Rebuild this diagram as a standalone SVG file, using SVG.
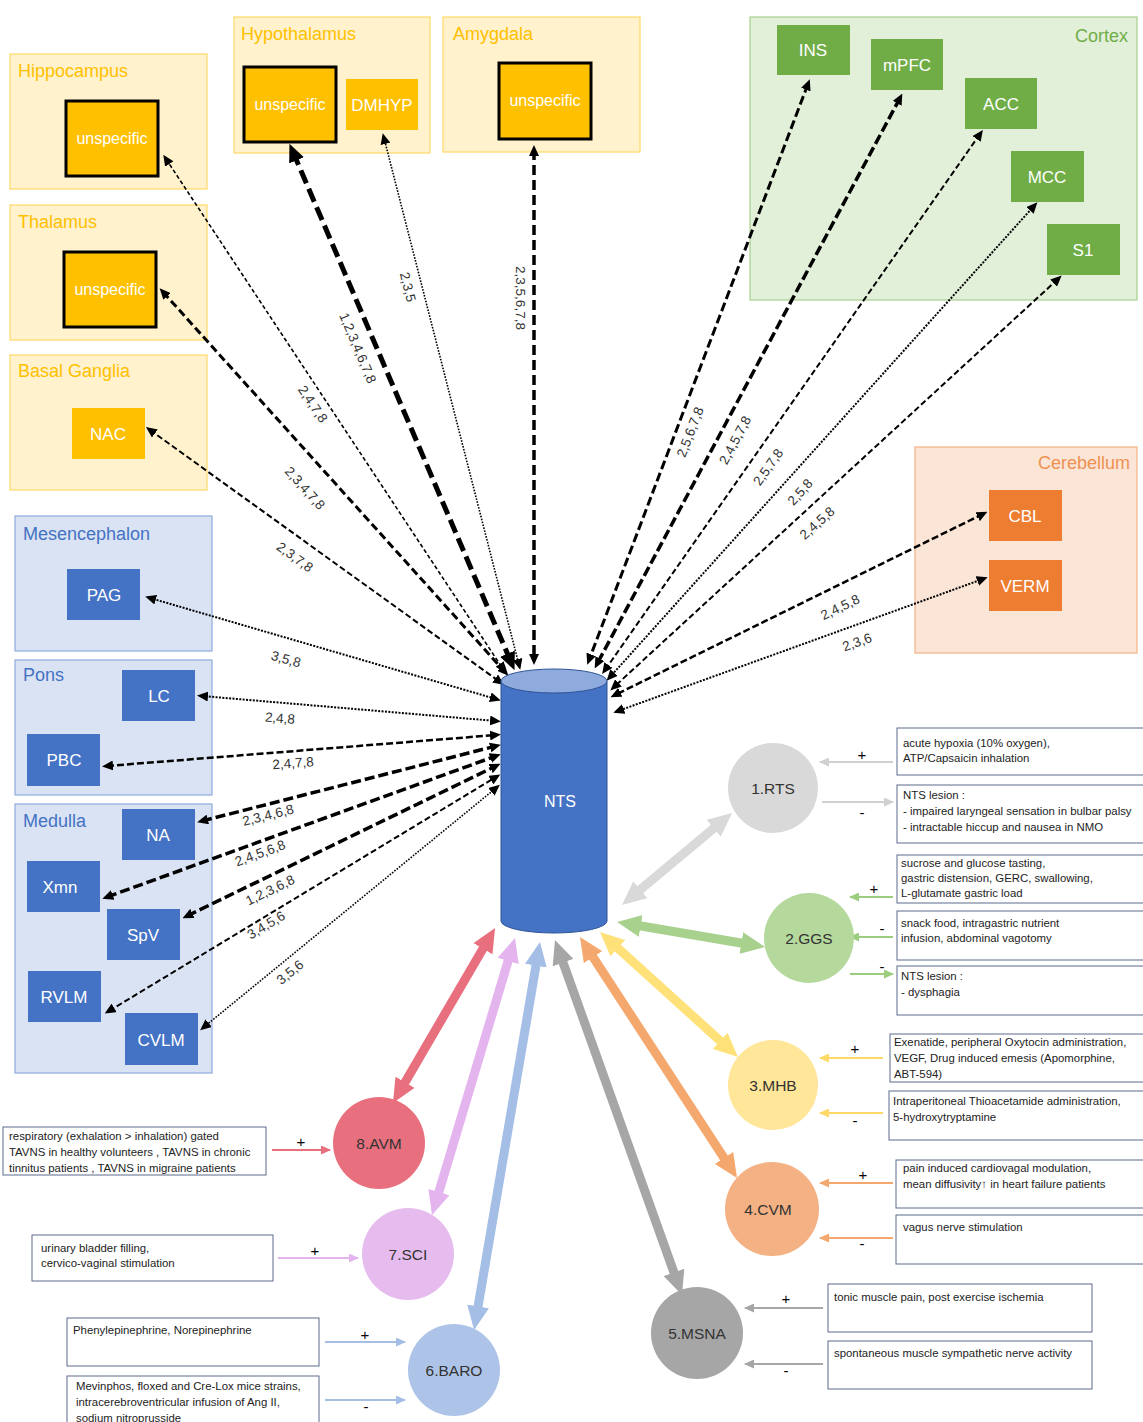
<svg xmlns="http://www.w3.org/2000/svg" width="1143" height="1422" viewBox="0 0 1143 1422">
<style>
text{font-family:"Liberation Sans",Arial,sans-serif}
.regY{fill:#fff2cc;stroke:#ffd966;stroke-width:1.2}
.regG{fill:#e2f0d9;stroke:#a9d18e;stroke-width:1.2}
.regO{fill:#fbe5d6;stroke:#f4b183;stroke-width:1.2}
.regB{fill:#dae3f3;stroke:#8faadc;stroke-width:1.2}
.tY{fill:#ffc000;font-size:18px}
.tG{fill:#70ad47;font-size:18px}
.tO{fill:#ed7d31;font-size:18px;opacity:.8}
.tB{fill:#4472c4;font-size:18px}
.nY{fill:#ffc000}
.nYb{fill:#ffc000;stroke:#000;stroke-width:3}
.nG{fill:#70ad47}
.nO{fill:#ed7d31}
.nB{fill:#4472c4}
.nl{fill:#fff;font-size:17px;text-anchor:middle}
.ul{fill:#fff;font-size:16px;text-anchor:middle}
.c{fill:none;stroke:#000}
.lb{font-size:13.5px;fill:#333;text-anchor:middle}
.cl{font-size:15.5px;fill:#333;text-anchor:middle}
.bx{fill:#fff;stroke:#5b6b8c;stroke-width:1}
.bt{font-size:11.4px;fill:#222}
.pm{font-size:15px;fill:#000;text-anchor:middle}
.w{fill:none;stroke-width:9}
.s{fill:none;stroke-width:2}
</style>
<defs>
<marker id="m" markerUnits="userSpaceOnUse" markerWidth="11" markerHeight="10" refX="6" refY="5" orient="auto-start-reverse"><path d="M0,0 L11,5 L0,10 z" fill="#000"/></marker>
<marker id="mL" markerUnits="userSpaceOnUse" markerWidth="18" markerHeight="16" refX="9" refY="8" orient="auto-start-reverse"><path d="M0,0 L18,8 L0,16 z" fill="#000"/></marker>
<marker id="wGy" markerUnits="userSpaceOnUse" markerWidth="24" markerHeight="22" refX="10" refY="11" orient="auto-start-reverse"><path d="M0,0 L24,11 L0,22 z" fill="#d9d9d9"/></marker>
<marker id="wGr" markerUnits="userSpaceOnUse" markerWidth="24" markerHeight="22" refX="10" refY="11" orient="auto-start-reverse"><path d="M0,0 L24,11 L0,22 z" fill="#a9d18e"/></marker>
<marker id="wYe" markerUnits="userSpaceOnUse" markerWidth="24" markerHeight="22" refX="10" refY="11" orient="auto-start-reverse"><path d="M0,0 L24,11 L0,22 z" fill="#ffe17a"/></marker>
<marker id="wOr" markerUnits="userSpaceOnUse" markerWidth="24" markerHeight="22" refX="10" refY="11" orient="auto-start-reverse"><path d="M0,0 L24,11 L0,22 z" fill="#f4a86e"/></marker>
<marker id="wDg" markerUnits="userSpaceOnUse" markerWidth="24" markerHeight="22" refX="10" refY="11" orient="auto-start-reverse"><path d="M0,0 L24,11 L0,22 z" fill="#a6a6a6"/></marker>
<marker id="wBl" markerUnits="userSpaceOnUse" markerWidth="24" markerHeight="22" refX="10" refY="11" orient="auto-start-reverse"><path d="M0,0 L24,11 L0,22 z" fill="#a4bee6"/></marker>
<marker id="wPk" markerUnits="userSpaceOnUse" markerWidth="24" markerHeight="22" refX="10" refY="11" orient="auto-start-reverse"><path d="M0,0 L24,11 L0,22 z" fill="#e4b4ee"/></marker>
<marker id="wRd" markerUnits="userSpaceOnUse" markerWidth="24" markerHeight="22" refX="10" refY="11" orient="auto-start-reverse"><path d="M0,0 L24,11 L0,22 z" fill="#e8707e"/></marker>
<marker id="sGy" markerUnits="userSpaceOnUse" markerWidth="10" markerHeight="9" refX="9" refY="4.5" orient="auto"><path d="M0,0 L10,4.5 L0,9 z" fill="#d0d0d0"/></marker>
<marker id="sGr" markerUnits="userSpaceOnUse" markerWidth="10" markerHeight="9" refX="9" refY="4.5" orient="auto"><path d="M0,0 L10,4.5 L0,9 z" fill="#9ccc7e"/></marker>
<marker id="sYe" markerUnits="userSpaceOnUse" markerWidth="10" markerHeight="9" refX="9" refY="4.5" orient="auto"><path d="M0,0 L10,4.5 L0,9 z" fill="#ffd966"/></marker>
<marker id="sOr" markerUnits="userSpaceOnUse" markerWidth="10" markerHeight="9" refX="9" refY="4.5" orient="auto"><path d="M0,0 L10,4.5 L0,9 z" fill="#f4a86e"/></marker>
<marker id="sDg" markerUnits="userSpaceOnUse" markerWidth="10" markerHeight="9" refX="9" refY="4.5" orient="auto"><path d="M0,0 L10,4.5 L0,9 z" fill="#a6a6a6"/></marker>
<marker id="sBl" markerUnits="userSpaceOnUse" markerWidth="10" markerHeight="9" refX="9" refY="4.5" orient="auto"><path d="M0,0 L10,4.5 L0,9 z" fill="#a4bee6"/></marker>
<marker id="sPk" markerUnits="userSpaceOnUse" markerWidth="10" markerHeight="9" refX="9" refY="4.5" orient="auto"><path d="M0,0 L10,4.5 L0,9 z" fill="#e4b4ee"/></marker>
<marker id="sRd" markerUnits="userSpaceOnUse" markerWidth="10" markerHeight="9" refX="9" refY="4.5" orient="auto"><path d="M0,0 L10,4.5 L0,9 z" fill="#e8707e"/></marker>
</defs>
<rect width="1143" height="1422" fill="#fff"/>

<!-- Regions -->
<g id="hippocampus">
<rect class="regY" x="10" y="54" width="197" height="135"/>
<text class="tY" x="18" y="77">Hippocampus</text>
<rect class="nYb" x="66" y="101" width="92" height="75"/>
<text class="ul" x="112" y="144">unspecific</text>
</g>
<g id="thalamus">
<rect class="regY" x="10" y="205" width="197" height="135"/>
<text class="tY" x="18" y="228">Thalamus</text>
<rect class="nYb" x="64" y="252" width="92" height="75"/>
<text class="ul" x="110" y="295">unspecific</text>
</g>
<g id="basal-ganglia">
<rect class="regY" x="10" y="355" width="197" height="135"/>
<text class="tY" x="18" y="377">Basal Ganglia</text>
<rect class="nY" x="72" y="408" width="73" height="51"/>
<text class="nl" x="108" y="440">NAC</text>
</g>
<g id="hypothalamus">
<rect class="regY" x="234" y="17" width="196" height="136"/>
<text class="tY" x="241" y="40">Hypothalamus</text>
<rect class="nYb" x="244" y="67" width="92" height="75"/>
<text class="ul" x="290" y="110">unspecific</text>
<rect class="nY" x="346" y="79" width="72" height="51"/>
<text class="nl" x="382" y="111">DMHYP</text>
</g>
<g id="amygdala">
<rect class="regY" x="443" y="17" width="197" height="135"/>
<text class="tY" x="453" y="40">Amygdala</text>
<rect class="nYb" x="499" y="63" width="92" height="76"/>
<text class="ul" x="545" y="106">unspecific</text>
</g>
<g id="cortex">
<rect class="regG" x="750" y="17" width="387" height="283"/>
<text class="tG" x="1128" y="42" text-anchor="end">Cortex</text>
<rect class="nG" x="777" y="25" width="73" height="50"/><text class="nl" x="813" y="56">INS</text>
<rect class="nG" x="871" y="39" width="72" height="51"/><text class="nl" x="907" y="71">mPFC</text>
<rect class="nG" x="965" y="78" width="72" height="51"/><text class="nl" x="1001" y="110">ACC</text>
<rect class="nG" x="1011" y="151" width="73" height="51"/><text class="nl" x="1047" y="183">MCC</text>
<rect class="nG" x="1047" y="224" width="73" height="51"/><text class="nl" x="1083" y="256">S1</text>
</g>
<g id="cerebellum">
<rect class="regO" x="915" y="447" width="222" height="206"/>
<text class="tO" x="1130" y="469" text-anchor="end">Cerebellum</text>
<rect class="nO" x="989" y="490" width="73" height="51"/><text class="nl" x="1025" y="522">CBL</text>
<rect class="nO" x="989" y="560" width="73" height="51"/><text class="nl" x="1025" y="592">VERM</text>
</g>
<g id="mesencephalon">
<rect class="regB" x="15" y="516" width="197" height="135"/>
<text class="tB" x="23" y="540">Mesencephalon</text>
<rect class="nB" x="67" y="569" width="73" height="51"/><text class="nl" x="104" y="601">PAG</text>
</g>
<g id="pons">
<rect class="regB" x="15" y="660" width="197" height="135"/>
<text class="tB" x="23" y="681">Pons</text>
<rect class="nB" x="122" y="670" width="73" height="51"/><text class="nl" x="159" y="702">LC</text>
<rect class="nB" x="27" y="734" width="73" height="52"/><text class="nl" x="64" y="766">PBC</text>
</g>
<g id="medulla">
<rect class="regB" x="15" y="804" width="197" height="269"/>
<text class="tB" x="23" y="827">Medulla</text>
<rect class="nB" x="122" y="809" width="73" height="51"/><text class="nl" x="158" y="841">NA</text>
<rect class="nB" x="27" y="861" width="73" height="51"/><text class="nl" x="60" y="893">Xmn</text>
<rect class="nB" x="107" y="909" width="73" height="51"/><text class="nl" x="143" y="941">SpV</text>
<rect class="nB" x="28" y="971" width="73" height="51"/><text class="nl" x="64" y="1003">RVLM</text>
<rect class="nB" x="125" y="1013" width="73" height="52"/><text class="nl" x="161" y="1046">CVLM</text>
</g>

<!-- Connectors -->
<g id="connectors">
<line class="c" x1="166" y1="159" x2="503" y2="669" stroke-width="1.6" stroke-dasharray="4 2.5" marker-start="url(#m)" marker-end="url(#m)"/>
<line class="c" x1="163" y1="292" x2="505" y2="672" stroke-width="3" stroke-dasharray="8 4" marker-start="url(#m)" marker-end="url(#m)"/>
<line class="c" x1="150" y1="430" x2="500" y2="682" stroke-width="2" stroke-dasharray="6 3" marker-start="url(#m)" marker-end="url(#m)"/>
<line class="c" x1="293" y1="152" x2="511" y2="662" stroke-width="5" stroke-dasharray="14 6" marker-start="url(#mL)" marker-end="url(#mL)"/>
<line class="c" x1="384" y1="138" x2="519" y2="665" stroke-width="1.6" stroke-dasharray="1.6 1.4" marker-start="url(#m)" marker-end="url(#m)"/>
<line class="c" x1="534" y1="150" x2="534" y2="660" stroke-width="3.5" stroke-dasharray="10 5" marker-start="url(#m)" marker-end="url(#m)"/>
<line class="c" x1="808" y1="84" x2="589" y2="660" stroke-width="3" stroke-dasharray="9 4" marker-start="url(#m)" marker-end="url(#m)"/>
<line class="c" x1="900" y1="98" x2="597" y2="664" stroke-width="3.5" stroke-dasharray="10 4" marker-start="url(#m)" marker-end="url(#m)"/>
<line class="c" x1="980" y1="134" x2="605" y2="670" stroke-width="2" stroke-dasharray="6 3" marker-start="url(#m)" marker-end="url(#m)"/>
<line class="c" x1="1034" y1="206" x2="610" y2="677" stroke-width="2" stroke-dasharray="2 1.4" marker-start="url(#m)" marker-end="url(#m)"/>
<line class="c" x1="1058" y1="279" x2="614" y2="687" stroke-width="2" stroke-dasharray="6 3" marker-start="url(#m)" marker-end="url(#m)"/>
<line class="c" x1="983" y1="514" x2="615" y2="695" stroke-width="2.5" stroke-dasharray="7 3" marker-start="url(#m)" marker-end="url(#m)"/>
<line class="c" x1="983" y1="579" x2="618" y2="711" stroke-width="2" stroke-dasharray="2 1.4" marker-start="url(#m)" marker-end="url(#m)"/>
<line class="c" x1="150" y1="598" x2="496" y2="699" stroke-width="2" stroke-dasharray="2 1.4" marker-start="url(#m)" marker-end="url(#m)"/>
<line class="c" x1="202" y1="696" x2="496" y2="721" stroke-width="2" stroke-dasharray="2 1.4" marker-start="url(#m)" marker-end="url(#m)"/>
<line class="c" x1="107" y1="766" x2="496" y2="735" stroke-width="2.5" stroke-dasharray="7 3" marker-start="url(#m)" marker-end="url(#m)"/>
<line class="c" x1="202" y1="821" x2="496" y2="746" stroke-width="3.5" stroke-dasharray="10 4" marker-start="url(#m)" marker-end="url(#m)"/>
<line class="c" x1="107" y1="897" x2="496" y2="756" stroke-width="3.5" stroke-dasharray="10 4" marker-start="url(#m)" marker-end="url(#m)"/>
<line class="c" x1="187" y1="916" x2="496" y2="766" stroke-width="3.5" stroke-dasharray="10 4" marker-start="url(#m)" marker-end="url(#m)"/>
<line class="c" x1="109" y1="1011" x2="496" y2="777" stroke-width="2" stroke-dasharray="6 3" marker-start="url(#m)" marker-end="url(#m)"/>
<line class="c" x1="204" y1="1027" x2="496" y2="788" stroke-width="1.6" stroke-dasharray="1.6 1.4" marker-start="url(#m)" marker-end="url(#m)"/>

<text class="lb" transform="translate(313,404) rotate(56)" dy="0.35em">2,4,7,8</text>
<text class="lb" transform="translate(305,488) rotate(48)" dy="0.35em">2,3,4,7,8</text>
<text class="lb" transform="translate(295,557) rotate(36)" dy="0.35em">2,3,7,8</text>
<text class="lb" transform="translate(358,348) rotate(67)" dy="0.35em">1,2,3,4,6,7,8</text>
<text class="lb" transform="translate(408,287) rotate(76)" dy="0.35em">2,3,5</text>
<text class="lb" transform="translate(521,298) rotate(90)" dy="0.35em">2,3,5,6,7,8</text>
<text class="lb" transform="translate(690,432) rotate(-69)" dy="0.35em">2,5,6,7,8</text>
<text class="lb" transform="translate(735,440) rotate(-62)" dy="0.35em">2,4,5,7,8</text>
<text class="lb" transform="translate(768,467) rotate(-55)" dy="0.35em">2,5,7,8</text>
<text class="lb" transform="translate(800,492) rotate(-48)" dy="0.35em">2,5,8</text>
<text class="lb" transform="translate(817,523) rotate(-42)" dy="0.35em">2,4,5,8</text>
<text class="lb" transform="translate(840,607) rotate(-26)" dy="0.35em">2,4,5,8</text>
<text class="lb" transform="translate(857,642) rotate(-20)" dy="0.35em">2,3,6</text>
<text class="lb" transform="translate(286,659) rotate(16)" dy="0.35em">3,5,8</text>
<text class="lb" transform="translate(280,718) rotate(5)" dy="0.35em">2,4,8</text>
<text class="lb" transform="translate(293,763) rotate(-4)" dy="0.35em">2,4,7,8</text>
<text class="lb" transform="translate(268,815) rotate(-14)" dy="0.35em">2,3,4,6,8</text>
<text class="lb" transform="translate(260,853) rotate(-20)" dy="0.35em">2,4,5,6,8</text>
<text class="lb" transform="translate(270,890) rotate(-26)" dy="0.35em">1,2,3,6,8</text>
<text class="lb" transform="translate(266,925) rotate(-31)" dy="0.35em">3,4,5,6</text>
<text class="lb" transform="translate(290,972) rotate(-39)" dy="0.35em">3,5,6</text>

<!-- wide colored arrows -->
<line class="w" stroke="#d9d9d9" x1="632.7" y1="896" x2="721.3" y2="822" marker-start="url(#wGy)" marker-end="url(#wGy)"/>
<line class="w" stroke="#a9d18e" x1="630.8" y1="924.3" x2="751.2" y2="944.7" marker-start="url(#wGr)" marker-end="url(#wGr)"/>
<line class="w" stroke="#ffe17a" x1="610.4" y1="941.4" x2="727.6" y2="1047.6" marker-start="url(#wYe)" marker-end="url(#wYe)"/>
<line class="w" stroke="#f4a86e" x1="587.6" y1="948.7" x2="729.4" y2="1166.3" marker-start="url(#wOr)" marker-end="url(#wOr)"/>
<line class="w" stroke="#a6a6a6" x1="559.7" y1="953.2" x2="677.3" y2="1281.8" marker-start="url(#wDg)" marker-end="url(#wDg)"/>
<line class="w" stroke="#a4bee6" x1="537.6" y1="955.8" x2="476.4" y2="1316.2" marker-start="url(#wBl)" marker-end="url(#wBl)"/>
<line class="w" stroke="#e4b4ee" x1="511" y1="951.4" x2="436" y2="1201.6" marker-start="url(#wPk)" marker-end="url(#wPk)"/>
<line class="w" stroke="#e8707e" x1="488" y1="940.1" x2="400" y2="1090.9" marker-start="url(#wRd)" marker-end="url(#wRd)"/>

<!-- small side arrows -->
<line class="s" stroke="#d0d0d0" x1="893" y1="762" x2="820" y2="762" marker-end="url(#sGy)"/>
<line class="s" stroke="#d0d0d0" x1="822" y1="802" x2="893" y2="802" marker-end="url(#sGy)"/>
<line class="s" stroke="#9ccc7e" x1="893" y1="897" x2="850" y2="897" marker-end="url(#sGr)"/>
<line class="s" stroke="#9ccc7e" x1="893" y1="937" x2="850" y2="937" marker-end="url(#sGr)"/>
<line class="s" stroke="#9ccc7e" x1="850" y1="974" x2="893" y2="974" marker-end="url(#sGr)"/>
<line class="s" stroke="#ffd966" x1="883" y1="1058" x2="820" y2="1058" marker-end="url(#sYe)"/>
<line class="s" stroke="#ffd966" x1="883" y1="1113" x2="820" y2="1113" marker-end="url(#sYe)"/>
<line class="s" stroke="#f4a86e" x1="893" y1="1183" x2="820" y2="1183" marker-end="url(#sOr)"/>
<line class="s" stroke="#f4a86e" x1="893" y1="1238" x2="820" y2="1238" marker-end="url(#sOr)"/>
<line class="s" stroke="#a6a6a6" x1="823" y1="1308" x2="745" y2="1308" marker-end="url(#sDg)"/>
<line class="s" stroke="#a6a6a6" x1="823" y1="1364" x2="745" y2="1364" marker-end="url(#sDg)"/>
<line class="s" stroke="#e8707e" x1="272" y1="1150" x2="330" y2="1150" marker-end="url(#sRd)"/>
<line class="s" stroke="#e4b4ee" x1="278" y1="1258" x2="358" y2="1258" marker-end="url(#sPk)"/>
<line class="s" stroke="#a4bee6" x1="325" y1="1342" x2="405" y2="1342" marker-end="url(#sBl)"/>
<line class="s" stroke="#a4bee6" x1="325" y1="1400" x2="405" y2="1400" marker-end="url(#sBl)"/>

<text class="pm" x="862" y="760">+</text>
<text class="pm" x="862" y="818">-</text>
<text class="pm" x="874" y="894">+</text>
<text class="pm" x="882" y="934">-</text>
<text class="pm" x="882" y="972">-</text>
<text class="pm" x="855" y="1054">+</text>
<text class="pm" x="855" y="1126">-</text>
<text class="pm" x="863" y="1180">+</text>
<text class="pm" x="862" y="1249">-</text>
<text class="pm" x="786" y="1304">+</text>
<text class="pm" x="786" y="1376">-</text>
<text class="pm" x="301" y="1147">+</text>
<text class="pm" x="315" y="1256">+</text>
<text class="pm" x="365" y="1340">+</text>
<text class="pm" x="366" y="1412">-</text>
</g>

<!-- NTS -->
<g id="nts">
<path d="M501,681 L501,921 A53,12 0 0 0 607,921 L607,681 z" fill="#4472c4" stroke="#2f5597" stroke-width="1"/>
<ellipse cx="554" cy="681" rx="53" ry="12" fill="#8faadc" stroke="#2f5597" stroke-width="1"/>
<text x="560" y="807" fill="#fff" font-size="16" text-anchor="middle">NTS</text>
</g>

<!-- Circles -->
<g id="rts"><circle cx="773" cy="788" r="45" fill="#d9d9d9"/><text class="cl" x="773" y="794">1.RTS</text></g>
<g id="ggs"><circle cx="809" cy="938" r="45" fill="#b5d99c"/><text class="cl" x="809" y="944">2.GGS</text></g>
<g id="mhb"><circle cx="773" cy="1085" r="45" fill="#ffe699"/><text class="cl" x="773" y="1091">3.MHB</text></g>
<g id="cvm"><circle cx="772" cy="1209" r="47" fill="#f4b183"/><text class="cl" x="768" y="1215">4.CVM</text></g>
<g id="msna"><circle cx="697" cy="1333" r="46" fill="#a6a6a6"/><text class="cl" x="697" y="1339">5.MSNA</text></g>
<g id="baro"><circle cx="454" cy="1370" r="46" fill="#adc4e8"/><text class="cl" x="454" y="1376">6.BARO</text></g>
<g id="sci"><circle cx="408" cy="1254" r="46" fill="#e6bcee"/><text class="cl" x="408" y="1260">7.SCI</text></g>
<g id="avm"><circle cx="379" cy="1143" r="46" fill="#e8707e"/><text class="cl" x="379" y="1149">8.AVM</text></g>

<!-- Text boxes -->
<g id="box-rts-plus"><rect class="bx" x="897" y="728" width="250" height="47"/>
<text class="bt" x="903" y="747">acute hypoxia (10% oxygen),</text><text class="bt" x="903" y="762">ATP/Capsaicin inhalation</text></g>
<g id="box-rts-minus"><rect class="bx" x="897" y="785" width="250" height="58"/>
<text class="bt" x="903" y="799">NTS lesion :</text><text class="bt" x="903" y="815">- impaired laryngeal sensation in bulbar palsy</text><text class="bt" x="903" y="831">- intractable hiccup and nausea in NMO</text></g>
<g id="box-ggs-plus"><rect class="bx" x="897" y="855" width="250" height="48"/>
<text class="bt" x="901" y="867">sucrose and glucose tasting,</text><text class="bt" x="901" y="882">gastric distension, GERC, swallowing,</text><text class="bt" x="901" y="897">L-glutamate gastric load</text></g>
<g id="box-ggs-minus"><rect class="bx" x="897" y="911" width="250" height="49"/>
<text class="bt" x="901" y="927">snack food, intragastric nutrient</text><text class="bt" x="901" y="942">infusion, abdominal vagotomy</text></g>
<g id="box-ggs-lesion"><rect class="bx" x="897" y="966" width="250" height="49"/>
<text class="bt" x="901" y="980">NTS lesion :</text><text class="bt" x="901" y="996">- dysphagia</text></g>
<g id="box-mhb-plus"><rect class="bx" x="890" y="1034" width="257" height="48"/>
<text class="bt" x="894" y="1046">Exenatide, peripheral Oxytocin administration,</text><text class="bt" x="894" y="1062">VEGF, Drug induced emesis (Apomorphine,</text><text class="bt" x="894" y="1078">ABT-594)</text></g>
<g id="box-mhb-minus"><rect class="bx" x="889" y="1091" width="258" height="49"/>
<text class="bt" x="893" y="1105">Intraperitoneal Thioacetamide administration,</text><text class="bt" x="893" y="1121">5-hydroxytryptamine</text></g>
<g id="box-cvm-plus"><rect class="bx" x="896" y="1160" width="251" height="48"/>
<text class="bt" x="903" y="1172">pain induced cardiovagal modulation,</text><text class="bt" x="903" y="1188">mean diffusivity↑ in heart failure patients</text></g>
<g id="box-cvm-minus"><rect class="bx" x="896" y="1215" width="251" height="49"/>
<text class="bt" x="903" y="1231">vagus nerve stimulation</text></g>
<g id="box-msna-plus"><rect class="bx" x="828" y="1284" width="264" height="48"/>
<text class="bt" x="834" y="1301">tonic muscle pain, post exercise ischemia</text></g>
<g id="box-msna-minus"><rect class="bx" x="828" y="1341" width="264" height="48"/>
<text class="bt" x="834" y="1357">spontaneous muscle sympathetic nerve activity</text></g>
<g id="box-avm-plus"><rect class="bx" x="3" y="1127" width="263" height="48"/>
<text class="bt" x="9" y="1140">respiratory (exhalation &gt; inhalation) gated</text><text class="bt" x="9" y="1156">TAVNS in healthy volunteers , TAVNS in chronic</text><text class="bt" x="9" y="1172">tinnitus patients , TAVNS in migraine patients</text></g>
<g id="box-sci-plus"><rect class="bx" x="32" y="1235" width="241" height="46"/>
<text class="bt" x="41" y="1252">urinary bladder filling,</text><text class="bt" x="41" y="1267">cervico-vaginal stimulation</text></g>
<g id="box-baro-plus"><rect class="bx" x="67" y="1318" width="252" height="48"/>
<text class="bt" x="73" y="1334">Phenylepinephrine, Norepinephrine</text></g>
<g id="box-baro-minus"><rect class="bx" x="67" y="1376" width="252" height="50"/>
<text class="bt" x="76" y="1390">Mevinphos, floxed and Cre-Lox mice strains,</text><text class="bt" x="76" y="1406">intracerebroventricular infusion of Ang II,</text><text class="bt" x="76" y="1422">sodium nitroprusside</text></g>
</svg>
